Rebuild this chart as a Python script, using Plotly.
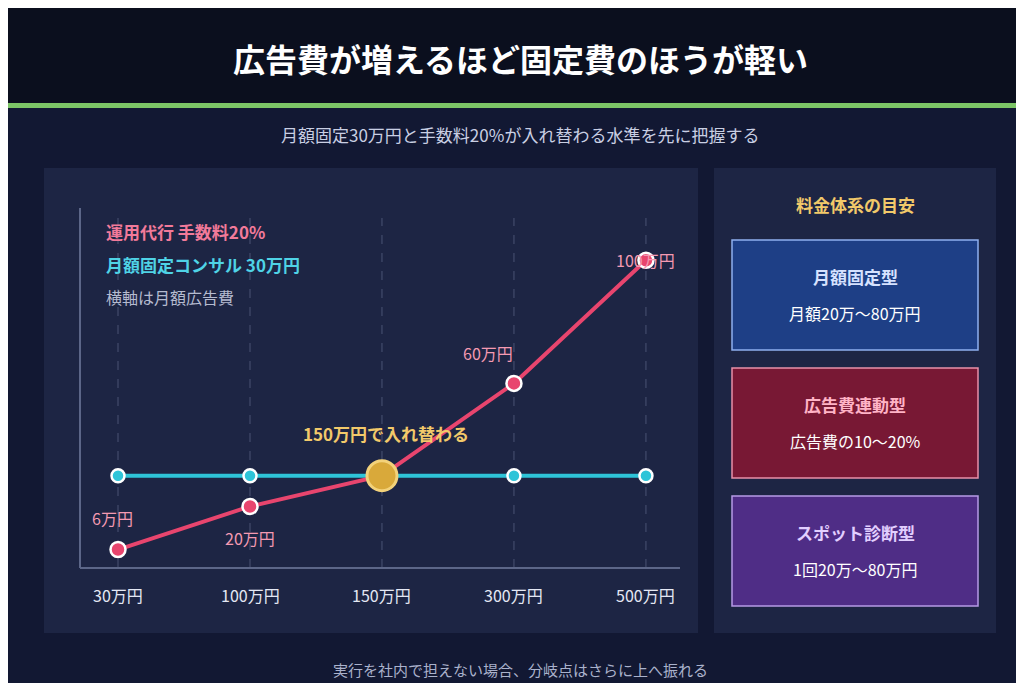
import plotly.graph_objects as go

categories = ["30万円", "100万円", "150万円", "300万円", "500万円"]
agency_fee = [6, 20, 30, 60, 100]          # 手数料20% (万円)
consult_fee = [30, 30, 30, 30, 30]         # 月額固定 30万円
agency_labels = ["6万円", "20万円", "", "60万円", "100万円"]
cross_index = 2
cards = [("月額固定型", "月額20万〜80万円"), ("広告費連動型", "広告費の10〜20%"), ("スポット診断型", "1回20万〜80万円")]

W, H = 1024, 683
def px(x): return x / W
def py(y): return 1 - y / H

F = "Noto Sans CJK JP"
RED = "#e8456e"; CYAN = "#2ec4d8"; GOLD = "#d9a93a"
xs = list(range(len(categories)))

fig = go.Figure()
fig.add_trace(go.Scatter(x=xs, y=consult_fee, mode="lines+markers",
    line=dict(color=CYAN, width=4),
    marker=dict(size=13, color=CYAN, line=dict(color="white", width=2.5)), hoverinfo="skip"))
fig.add_trace(go.Scatter(x=xs, y=agency_fee, mode="lines+markers",
    line=dict(color=RED, width=4),
    marker=dict(size=15, color=RED, line=dict(color="white", width=2.5)), hoverinfo="skip"))
fig.add_trace(go.Scatter(x=[xs[cross_index]], y=[agency_fee[cross_index]], mode="markers",
    marker=dict(size=30, color=GOLD, line=dict(color="#f3d27a", width=3)), hoverinfo="skip"))

shapes = [
    dict(type="rect", xref="paper", yref="paper", x0=0, x1=1, y0=py(95), y1=1, fillcolor="#0b0f1e", line_width=0, layer="below"),
    dict(type="rect", xref="paper", yref="paper", x0=0, x1=1, y0=py(100), y1=py(95), fillcolor="#7cc566", line_width=0, layer="below"),
    dict(type="rect", xref="paper", yref="paper", x0=px(36), x1=px(690), y0=py(625), y1=py(160), fillcolor="#1d2544", line_width=0, layer="below"),
    dict(type="rect", xref="paper", yref="paper", x0=px(706), x1=px(988), y0=py(625), y1=py(160), fillcolor="#1d2544", line_width=0, layer="below"),
    dict(type="line", xref="paper", yref="paper", x0=px(72), x1=px(72), y0=py(560), y1=py(200), line=dict(color="#5c6688", width=2)),
    dict(type="line", xref="paper", yref="paper", x0=px(72), x1=px(672), y0=py(560), y1=py(560), line=dict(color="#5c6688", width=2)),
]
for x in xs:
    shapes.append(dict(type="line", xref="x", yref="paper", x0=x, x1=x, y0=py(560), y1=py(210),
                       line=dict(color="#4a5373", width=1, dash="dash"), layer="below"))

card_styles = [("#1e3f86", "#8fb0f0", "#d6e2ff"), ("#781834", "#e890a8", "#ffb3c6"), ("#4f2d86", "#b79ae6", "#e2cfff")]
card_tops = [232, 360, 488]
ann = []
for (title, body), (fill, border, tcol), top in zip(cards, card_styles, card_tops):
    shapes.append(dict(type="rect", xref="paper", yref="paper", x0=px(724), x1=px(970), y0=py(top + 110), y1=py(top),
                       fillcolor=fill, line=dict(color=border, width=1.5), layer="below"))
    ann.append(dict(x=px(847), y=py(top + 36), text=f"<b>{title}</b>", font=dict(size=17, color=tcol, family=F)))
    ann.append(dict(x=px(847), y=py(top + 73), text=body, font=dict(size=16, color="white", family=F)))

ann += [
    dict(x=0.5, y=py(50), text="<b>広告費が増えるほど固定費のほうが軽い</b>", font=dict(size=32, color="white", family=F)),
    dict(x=0.5, y=py(127), text="月額固定30万円と手数料20%が入れ替わる水準を先に把握する", font=dict(size=17, color="#c9cfe3", family=F)),
    dict(x=0.5, y=py(661), text="実行を社内で担えない場合、分岐点はさらに上へ振れる", font=dict(size=15, color="#aab2cc", family=F)),
    dict(x=px(847), y=py(196), text="<b>料金体系の目安</b>", font=dict(size=17, color="#f2c96a", family=F)),
    dict(x=px(96), y=py(223), text="<b>運用代行 手数料20%</b>", xanchor="left", font=dict(size=17, color="#f27a9a", family=F)),
    dict(x=px(96), y=py(256), text="<b>月額固定コンサル 30万円</b>", xanchor="left", font=dict(size=17, color="#4fd3e6", family=F)),
    dict(x=px(96), y=py(289), text="横軸は月額広告費", xanchor="left", font=dict(size=16, color="#b5bbd0", family=F)),
    dict(x=xs[cross_index], y=agency_fee[cross_index], xref="x", yref="y", yshift=42, xshift=4,
         text="<b>150万円で入れ替わる</b>", font=dict(size=17, color="#f2c96a", family=F)),
]
offsets = [(-6, 32), (0, -32), (-8, 30), (-26, 30), (0, 0)]
for x, v, lab, (dx, dy) in zip(xs, agency_fee, agency_labels, offsets):
    if lab:
        ann.append(dict(x=x, y=v, xref="x", yref="y", xshift=dx, yshift=dy, text=lab,
                        font=dict(size=16, color="#f49ab2", family=F)))
for x, c in zip(xs, categories):
    ann.append(dict(x=x, y=py(587), xref="x", yref="paper", text=c, font=dict(size=16, color="#e4e8f4", family=F)))
for a in ann:
    a.setdefault("xref", "paper"); a.setdefault("yref", "paper"); a["showarrow"] = False
    a.setdefault("xanchor", "center"); a.setdefault("yanchor", "middle")

fig.update_layout(
    width=W, height=H, margin=dict(l=0, r=0, t=0, b=0),
    paper_bgcolor="#121833", plot_bgcolor="rgba(0,0,0,0)", showlegend=False,
    xaxis=dict(domain=[px(72), px(672)], range=[-0.288, 4.258], showgrid=False, zeroline=False,
               showticklabels=False, fixedrange=True),
    yaxis=dict(domain=[py(560), py(200)], range=[0, 117], showgrid=False, zeroline=False,
               showticklabels=False, fixedrange=True),
    shapes=shapes, annotations=ann,
)
fig.write_html("out.html")
